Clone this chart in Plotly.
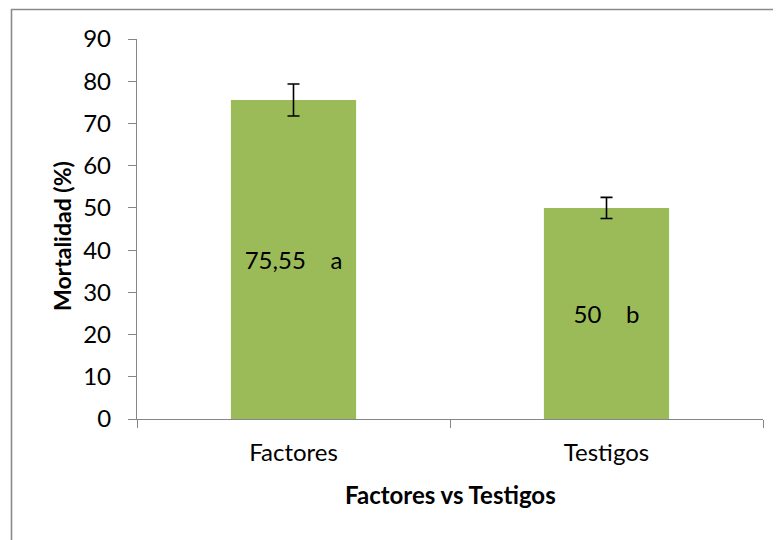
import plotly.graph_objects as go

categories = ["Factores", "Testigos"]
values = [75.55, 50]
errors = [3.8, 2.5]
labels = ["75,55", "50"]
letters = ["a", "b"]
y_ticks = [0, 10, 20, 30, 40, 50, 60, 70, 80, 90]

NB = "\u00a0"
bar_text = [f"{l}{NB*4}{g}" for l, g in zip(labels, letters)]

FONT = "Lato, Carlito, Calibri, sans-serif"
GRAY = "#868686"

fig = go.Figure()
fig.add_trace(go.Bar(
    x=categories,
    y=values,
    width=0.4,
    marker=dict(color="#9BBB59", line=dict(width=0)),
    error_y=dict(type="data", array=errors, visible=True, color="black",
                 thickness=1.6, width=6),
    text=bar_text,
    textposition="inside",
    insidetextanchor="middle",
    textangle=0,
    constraintext="none",
    textfont=dict(family=FONT, size=24, color="black"),
    hoverinfo="skip",
))

# page body has an 8px margin; compensate so plot sits at x 137-763, y 39-419
fig.update_layout(
    width=781, height=540,
    margin=dict(l=129, r=26, t=31, b=129),
    paper_bgcolor="white", plot_bgcolor="white",
    showlegend=False,
    font=dict(family=FONT, size=24, color="black"),
    xaxis=dict(
        type="category",
        showline=True, linecolor=GRAY, linewidth=1.3,
        ticks="outside", tickson="boundaries", ticklen=8, tickcolor=GRAY,
        tickwidth=1.3,
        showgrid=False, zeroline=False,
        tickfont=dict(family=FONT, size=24, color="black"),
        ticklabelstandoff=12,
    ),
    yaxis=dict(
        range=[0, 90],
        tickvals=y_ticks,
        showline=True, linecolor=GRAY, linewidth=1.3,
        ticks="outside", ticklen=8, tickcolor=GRAY, tickwidth=1.3,
        showgrid=False, zeroline=False,
        tickfont=dict(family=FONT, size=24, color="black"),
        ticklabelstandoff=12,
    ),
    annotations=[
        dict(text="<b>Mortalidad (%)</b>", xref="paper", yref="paper",
             x=(62 - 137) / 626, y=(419 - 236) / 380,
             xanchor="center", yanchor="middle", textangle=-90,
             showarrow=False, font=dict(family=FONT, size=23, color="black")),
        dict(text="<b>Factores vs Testigos</b>", xref="paper", yref="paper",
             x=(450 - 137) / 626, y=(419 - 494) / 380,
             xanchor="center", yanchor="middle",
             showarrow=False, font=dict(family=FONT, size=24, color="black")),
    ],
    shapes=[
        dict(type="rect", xref="paper", yref="paper",
             x0=(11.5 - 137) / 626, x1=2, y0=-1, y1=(419 - 9.5) / 380,
             line=dict(color="#8a8a8a", width=1.6), fillcolor="rgba(0,0,0,0)",
             layer="below"),
    ],
)

fig.write_html("out.html")
